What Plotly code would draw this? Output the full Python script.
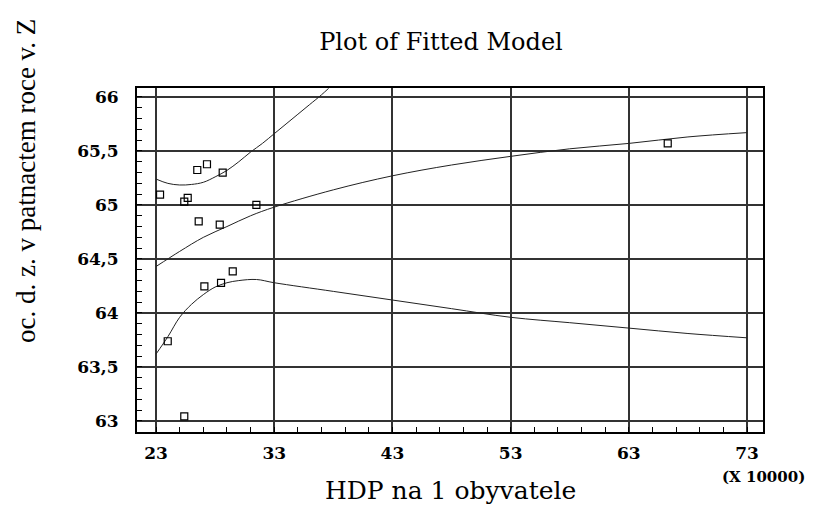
import plotly.graph_objects as go

# Observed data points (HDP in 10000s, life expectancy)
obs_x = [23.34, 25.39, 25.68, 26.49, 27.31, 28.64, 31.49, 26.61, 28.39,
         23.99, 27.09, 28.50, 29.49, 25.39, 66.29]
obs_y = [65.095, 65.031, 65.065, 65.324, 65.377, 65.299, 65.00, 64.849, 64.818,
         63.738, 64.247, 64.278, 64.386, 63.043, 65.571]

# Fitted model line
fit_x = [23, 25, 27, 29, 31, 33, 38, 43, 48, 53, 58, 63, 68, 73]
fit_y = [64.43, 64.57, 64.70, 64.80, 64.90, 64.98, 65.14, 65.27, 65.37, 65.45,
         65.52, 65.57, 65.63, 65.67]

# Upper limit curve
up_x = [23, 24, 25, 26, 27, 28, 29, 30, 31, 32, 33, 34, 35, 36, 37, 37.6]
up_y = [65.24, 65.20, 65.185, 65.19, 65.21, 65.26, 65.32, 65.40, 65.49, 65.57,
        65.66, 65.75, 65.84, 65.93, 66.02, 66.08]

# Lower limit curve
lo_x = [23, 24, 25, 26, 27, 28, 29, 30, 31.5, 33, 38, 43, 48, 53, 58, 63, 68, 73]
lo_y = [63.62, 63.78, 63.96, 64.08, 64.17, 64.24, 64.28, 64.30, 64.31, 64.28,
        64.20, 64.12, 64.04, 63.96, 63.91, 63.86, 63.81, 63.77]

x_ticks = [23, 33, 43, 53, 63, 73]
x_ticktext = ["23", "33", "43", "53", "63", "73"]
y_ticks = [63, 63.5, 64, 64.5, 65, 65.5, 66]
y_ticktext = ["63", "63,5", "64", "64,5", "65", "65,5", "66"]

line_col = "#222222"
fig = go.Figure()
fig.add_trace(go.Scatter(x=up_x, y=up_y, mode="lines", line=dict(color=line_col, width=1, shape="spline")))
fig.add_trace(go.Scatter(x=fit_x, y=fit_y, mode="lines", line=dict(color=line_col, width=1, shape="spline")))
fig.add_trace(go.Scatter(x=lo_x, y=lo_y, mode="lines", line=dict(color=line_col, width=1, shape="spline")))
fig.add_trace(go.Scatter(x=obs_x, y=obs_y, mode="markers",
                         marker=dict(symbol="square-open", size=7, color="black", line=dict(width=1.2))))

tickfont = dict(family="DejaVu Serif", size=17, color="black", weight="bold")
fig.update_layout(
    width=815, height=508,
    margin=dict(l=137, r=52, t=88, b=76),
    paper_bgcolor="white", plot_bgcolor="white",
    showlegend=False,
    title=dict(text="Plot of Fitted Model", x=441/815, xref="container", xanchor="center",
               y=1 - 42/508, yref="container", yanchor="middle",
               font=dict(family="DejaVu Serif", size=24, color="black")),
    xaxis=dict(range=[21.39, 74.35], tickvals=x_ticks, ticktext=x_ticktext,
               showgrid=True, gridcolor="#333333", gridwidth=1.5,
               showline=True, linecolor="black", linewidth=2, mirror=True,
               ticks="inside", ticklen=0, tickfont=tickfont, zeroline=False,
               ticklabelstandoff=5,
               minor=dict(tick0=23, dtick=2, ticks="inside", ticklen=5, tickcolor="black", showgrid=False)),
    yaxis=dict(range=[62.898, 66.083], tickvals=y_ticks, ticktext=y_ticktext,
               showgrid=True, gridcolor="#333333", gridwidth=1.5,
               showline=True, linecolor="black", linewidth=2, mirror=True,
               ticks="inside", ticklen=0, tickfont=tickfont, zeroline=False,
               ticklabelstandoff=13,
               minor=dict(tick0=63, dtick=0.1, ticks="inside", ticklen=5, tickcolor="black", showgrid=False)),
    annotations=[
        dict(text="HDP na 1 obyvatele", xref="paper", yref="paper",
             x=(450 - 137) / 626, y=(432 - 490) / 344, xanchor="center", yanchor="middle",
             showarrow=False, font=dict(family="DejaVu Serif", size=25, color="black")),
        dict(text="oc. d. z. v patnactem roce v. Z", xref="paper", yref="paper",
             x=(26 - 137) / 626, y=(432 - 181) / 344, xanchor="center", yanchor="middle",
             textangle=-90, showarrow=False,
             font=dict(family="Liberation Serif", size=27, color="black")),
        dict(text="(X 10000)", xref="paper", yref="paper",
             x=(763 - 137) / 626, y=(432 - 477) / 344, xanchor="center", yanchor="middle",
             showarrow=False, font=dict(family="DejaVu Serif", size=15, color="black", weight="bold")),
    ],
)

fig.write_html("out.html", config=dict(displayModeBar=False),
               post_script="document.body.style.margin='0';")
